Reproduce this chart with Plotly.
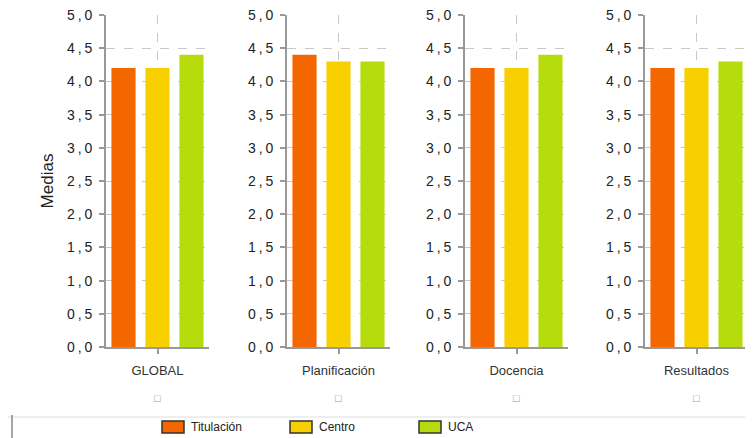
import plotly.graph_objects as go

categorias = ["GLOBAL", "Planificación", "Docencia", "Resultados"]
series = ["Titulación", "Centro", "UCA"]
titulacion = [4.2, 4.4, 4.2, 4.2]
centro = [4.2, 4.3, 4.2, 4.2]
uca = [4.4, 4.3, 4.4, 4.3]
colores = ["#F46600", "#F8D000", "#B6DC0E"]
y_ticks = [0, 0.5, 1, 1.5, 2, 2.5, 3, 3.5, 4, 4.5, 5]
y_etiquetas = ["0,0", "0,5", "1,0", "1,5", "2,0", "2,5", "3,0", "3,5", "4,0", "4,5", "5,0"]

# la página añade 8px de margen al body: se compensa aquí
OFF = 8
W, H = 753 - OFF, 438 - OFF
FONT = "Liberation Sans, Arial, sans-serif"


def px(x):
    return (x - OFF) / W


def py(y):
    return 1 - (y - OFF) / H


fig = go.Figure()

valores = [titulacion, centro, uca]
lefts = [106, 287, 465, 645]
panel_w = 103
annotations = []

for i, cat in enumerate(categorias):
    n = "" if i == 0 else str(i + 1)
    for s, nombre in enumerate(series):
        fig.add_trace(go.Bar(
            x=[cat], y=[valores[s][i]], name=nombre,
            marker=dict(color=colores[s], line=dict(width=0)),
            showlegend=False, xaxis="x" + n, yaxis="y" + n,
            hoverinfo="skip"))
    fig.layout["xaxis" + n] = dict(
        domain=[px(lefts[i]), min(1, px(lefts[i] + panel_w))], anchor="y" + n,
        automargin=False,
        showgrid=True, gridcolor="#c8c8c8", griddash="dash", gridwidth=1,
        showline=True, linecolor="#999999", linewidth=2,
        ticks="outside", ticklen=5, tickcolor="#999999", tickwidth=2,
        ticklabelstandoff=5,
        tickfont=dict(family=FONT, size=13, color="#333333"))
    fig.layout["yaxis" + n] = dict(
        domain=[py(347), py(15)], anchor="x" + n, range=[0, 5], automargin=False,
        tickvals=y_ticks,
        ticktext=[t.replace(",", "\u2009,\u2009") for t in y_etiquetas],
        ticklabeloverflow="allow",
        showgrid=True, gridcolor="#c8c8c8", griddash="dash", gridwidth=1,
        showline=True, linecolor="#999999", linewidth=2, zeroline=False,
        ticks="outside", ticklen=5, tickcolor="#999999", tickwidth=2,
        ticklabelstandoff=4,
        tickfont=dict(family=FONT, size=14, color="#222222"))
    # cuadradito bajo cada categoría
    annotations.append(dict(text="□", xref="x" + n, yref="paper", x=cat, y=py(398),
                            showarrow=False, xanchor="center", yanchor="middle",
                            font=dict(family=FONT, size=11, color="#999999")))

fig.layout.yaxis.title = dict(text="Medias", standoff=9,
                              font=dict(family=FONT, size=17, color="#222222"))

# leyenda y líneas inferiores
shapes = [
    dict(type="line", xref="paper", yref="paper", x0=0, x1=1,
         y0=py(417), y1=py(417), line=dict(color="#dddddd", width=1)),
    dict(type="line", xref="paper", yref="paper", x0=px(12), x1=px(12),
         y0=0, y1=py(415), line=dict(color="#888888", width=1.5)),
]
leg_x = [162, 290, 419]
for s, nombre in enumerate(series):
    shapes.append(dict(type="rect", xref="paper", yref="paper",
                       x0=px(leg_x[s]), x1=px(leg_x[s] + 22),
                       y0=py(433), y1=py(421),
                       fillcolor=colores[s], line=dict(color="#333333", width=1.5)))
    annotations.append(dict(text=nombre, xref="paper", yref="paper",
                            x=px(leg_x[s] + 27), y=py(427),
                            xanchor="left", yanchor="middle", showarrow=False,
                            font=dict(family=FONT, size=12, color="#222222")))

fig.update_layout(
    width=W, height=H, margin=dict(l=0, r=0, t=0, b=0),
    barmode="group", bargap=0.01, bargroupgap=0.29,
    paper_bgcolor="white", plot_bgcolor="white",
    showlegend=False, shapes=shapes, annotations=annotations,
    font=dict(family=FONT))

fig.write_html("out.html")
